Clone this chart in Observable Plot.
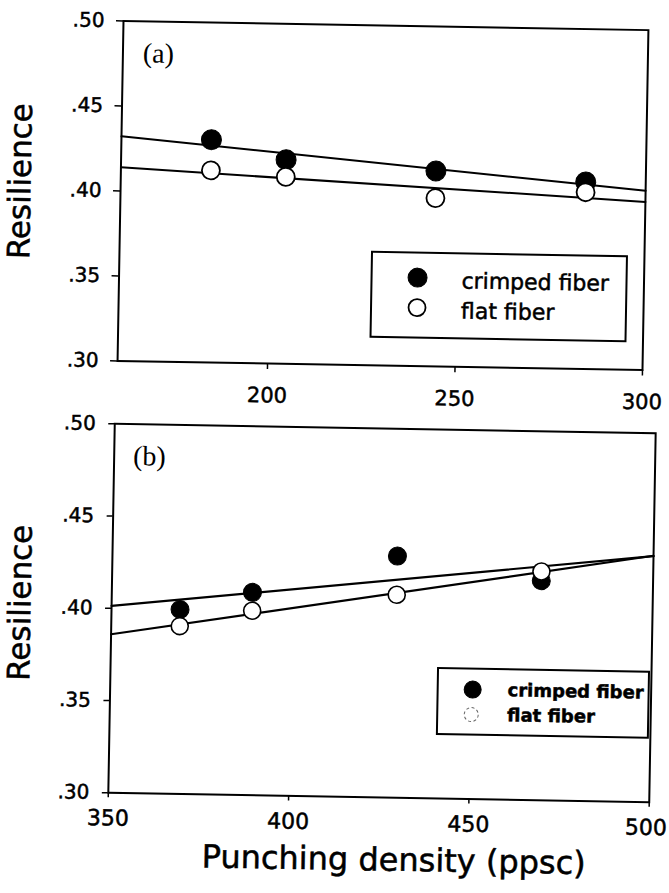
<!DOCTYPE html>
<html><head><meta charset="utf-8">
<script src="https://cdn.jsdelivr.net/npm/d3@7"></script>
<script src="https://cdn.jsdelivr.net/npm/@observablehq/plot@0.6"></script>
<style>
html,body{margin:0;padding:0;background:#fff;}
#chart{position:relative;width:669px;height:893px;overflow:hidden;background:#fff;font-family:"DejaVu Sans",sans-serif;}
.panel{position:absolute;left:0;width:669px;}
.panel > svg{position:absolute;}
#chart text{stroke:#000;stroke-width:0.5px;}
#chart g[font-family*="Serif"] text{stroke:none;}
</style></head><body><div id="chart"></div>
<script>
// ---- data ----
const densityA = [184, 204, 244, 284];
const crimpedA = [0.431, 0.420, 0.415, 0.410];
const flatA    = [0.413, 0.410, 0.399, 0.404];
const densityB = [369, 389, 429, 469];
const crimpedB = [0.400, 0.410, 0.431, 0.419];
const flatB    = [0.391, 0.400, 0.410, 0.424];
const seriesNames = ["crimped fiber", "flat fiber"];
const panelLabels = ["(a)", "(b)"];
const xDomainA = [160, 300];
const xTicksA  = [200, 250, 300];
const xDomainB = [350, 500];
const xTicksB  = [350, 400, 450, 500];
const yDomain  = [0.30, 0.50];
const yTicks   = [0.30, 0.35, 0.40, 0.45, 0.50];
const yTitle = "Resilience";
const xTitle = "Punching density (ppsc)";

// ---- helpers ----
const fmtY = d => d3.format(".2f")(d).replace(/^0/, "");
function fitLine(xs, ys, domain) {
  const mx = d3.mean(xs), my = d3.mean(ys);
  const sxy = d3.sum(xs, (x, i) => (x - mx) * (ys[i] - my));
  const sxx = d3.sum(xs, x => (x - mx) ** 2);
  const b = sxy / sxx, a = my - b * mx;
  return domain.map(x => ({x, y: a + b * x}));
}
const rows = (xs, c, f) => xs.map((d, i) => ({density: d, crimped: c[i], flat: f[i]}));
const rowsA = rows(densityA, crimpedA, flatA);
const rowsB = rows(densityB, crimpedB, flatB);

const chart = document.getElementById("chart");
const sans = "DejaVu Sans, sans-serif";
const serif = "Liberation Serif, serif";

// the scanned original is tilted by about one degree
function makePanel(top, height, originX, originY) {
  const div = document.createElement("div");
  div.className = "panel";
  div.style.top = top + "px";
  div.style.height = height + "px";
  div.style.transformOrigin = `${originX}px ${originY}px`;
  div.style.transform = "rotate(1deg)";
  chart.appendChild(div);
  return div;
}

function makeLegend(o) {
  const svg = d3.create("svg")
    .attr("width", o.w).attr("height", o.h)
    .style("left", o.left + "px").style("top", o.top + "px")
    .style("overflow", "visible");
  svg.append("rect").attr("x", 1).attr("y", 1).attr("width", o.w - 2).attr("height", o.h - 2)
    .attr("fill", "white").attr("stroke", "black").attr("stroke-width", 2);
  seriesNames.forEach((name, i) => {
    const s = o.symbols[i];
    svg.append("circle").attr("cx", s.cx).attr("cy", s.cy).attr("r", s.r)
      .attr("fill", s.fill).attr("stroke", s.stroke).attr("stroke-width", s.sw)
      .attr("stroke-dasharray", s.dash || null);
    svg.append("text").attr("x", o.tx).attr("y", o.ty[i])
      .attr("font-family", sans).attr("font-size", o.fs).attr("font-weight", o.fw)
      .attr("fill", "black").text(name);
  });
  return svg.node();
}

// ---- panel (a) ----
const panelA = makePanel(0, 410, 382.5, 195);
const plotA = Plot.plot({
  width: 669, height: 410,
  marginLeft: 120, marginRight: 24, marginTop: 25, marginBottom: 45,
  style: {fontFamily: sans, color: "black", background: "transparent", overflow: "visible"},
  x: {domain: xDomainA},
  y: {domain: yDomain},
  marks: [
    Plot.axisX({ticks: xTicksA, tickSize: 6, tickPadding: 18, fontSize: 21, label: null, strokeWidth: 1.5}),
    Plot.axisY({ticks: yTicks, tickSize: 7, tickPadding: 12, fontSize: 20, tickFormat: fmtY, label: null, strokeWidth: 1.5}),
    Plot.frame({stroke: "black", strokeWidth: 2}),
    Plot.line(fitLine(densityA, crimpedA, xDomainA), {x: "x", y: "y", stroke: "black", strokeWidth: 2}),
    Plot.line(fitLine(densityA, flatA, xDomainA), {x: "x", y: "y", stroke: "black", strokeWidth: 2}),
    Plot.dot(rowsA, {x: "density", y: "crimped", r: 10, fill: "black", stroke: "black", strokeWidth: 1}),
    Plot.dot(rowsA, {x: "density", y: "flat", r: 9, fill: "white", stroke: "black", strokeWidth: 1.8}),
    Plot.text([panelLabels[0]], {frameAnchor: "top-left", textAnchor: "start", lineAnchor: "bottom", dx: 20, dy: 41, fontSize: 28, fontFamily: serif}),
    Plot.text([yTitle], {frameAnchor: "left", rotate: -90, textAnchor: "middle", lineAnchor: "middle", dx: -100, dy: -8, fontSize: 31})
  ]
});
plotA.style.left = "0px"; plotA.style.top = "0px";
panelA.appendChild(plotA);
panelA.appendChild(makeLegend({
  left: 372, top: 250.5, w: 257, h: 87, tx: 91, ty: [36, 66], fs: 22, fw: "normal",
  symbols: [
    {cx: 47, cy: 26, r: 9.5, fill: "black", stroke: "black", sw: 1},
    {cx: 47, cy: 56, r: 8.5, fill: "white", stroke: "black", sw: 1.8}
  ]
}));

// ---- panel (b) ----
const panelB = makePanel(410, 483, 381.5, 202.5);
const lastB = xTicksB[xTicksB.length - 1];
const plotB = Plot.plot({
  width: 669, height: 483,
  marginLeft: 111, marginRight: 17, marginTop: 18, marginBottom: 96,
  style: {fontFamily: sans, color: "black", background: "transparent", overflow: "visible"},
  x: {domain: xDomainB},
  y: {domain: yDomain},
  marks: [
    Plot.axisX({ticks: xTicksB, tickSize: 5, tickPadding: 12, fontSize: 22, label: null, strokeWidth: 1.5, tickFormat: d => d === lastB ? "" : String(d)}),
    Plot.axisX({ticks: [lastB], tickSize: 0, tickPadding: 17, fontSize: 22, label: null, dx: -3}),
    Plot.axisY({ticks: yTicks, tickSize: 6, tickPadding: 13, fontSize: 20, tickFormat: fmtY, label: null, strokeWidth: 1.5}),
    Plot.frame({stroke: "black", strokeWidth: 2}),
    Plot.line(fitLine(densityB, crimpedB, xDomainB), {x: "x", y: "y", stroke: "black", strokeWidth: 2.2}),
    Plot.line(fitLine(densityB, flatB, xDomainB), {x: "x", y: "y", stroke: "black", strokeWidth: 2.2}),
    Plot.dot(rowsB, {x: "density", y: "crimped", r: 9, fill: "black", stroke: "black", strokeWidth: 1}),
    Plot.dot(rowsB, {x: "density", y: "flat", r: 8.5, fill: "white", stroke: "black", strokeWidth: 1.6}),
    Plot.text([panelLabels[1]], {frameAnchor: "top-left", textAnchor: "start", lineAnchor: "bottom", dx: 19, dy: 41, fontSize: 28, fontFamily: serif}),
    Plot.text([yTitle], {frameAnchor: "left", rotate: -90, textAnchor: "middle", lineAnchor: "middle", dx: -91, dy: -4, fontSize: 31}),
    Plot.text([xTitle], {frameAnchor: "bottom", textAnchor: "middle", lineAnchor: "bottom", dx: 16, dy: 73, fontSize: 32})
  ]
});
plotB.style.left = "0px"; plotB.style.top = "0px";
panelB.appendChild(plotB);
panelB.appendChild(makeLegend({
  left: 438, top: 256, w: 213, h: 68, tx: 71, ty: [28, 53], fs: 18, fw: "bold",
  symbols: [
    {cx: 36, cy: 22, r: 8.5, fill: "black", stroke: "black", sw: 1},
    {cx: 35, cy: 47, r: 7, fill: "white", stroke: "#666", sw: 1, dash: "3,2.5"}
  ]
}));
</script>
</body></html>
